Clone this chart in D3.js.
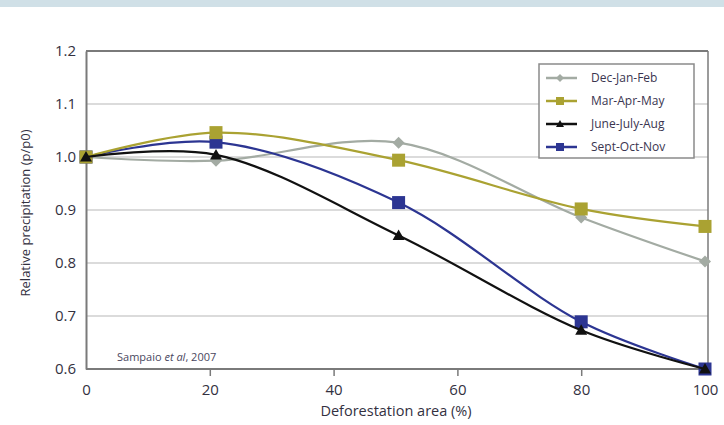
<!DOCTYPE html>
<html><head><meta charset="utf-8">
<script src="https://cdn.jsdelivr.net/npm/d3@7"></script>
<style>body{margin:0;background:#fff;}svg{display:block;}</style>
</head><body>
<svg id="chart" width="724" height="425"></svg>
<script>
const xValues = [0, 21, 50.5, 80, 100];
const seriesNames = ["Dec-Jan-Feb", "Mar-Apr-May", "June-July-Aug", "Sept-Oct-Nov"];
const decJanFeb = [1.0, 0.993, 1.027, 0.886, 0.803];
const marAprMay = [1.0, 1.046, 0.994, 0.902, 0.869];
const juneJulyAug = [1.0, 1.004, 0.852, 0.673, 0.600];
const septOctNov = [1.0, 1.028, 0.914, 0.689, 0.600];
const xTicks = [0, 20, 40, 60, 80, 100];
const yTicks = [0.6, 0.7, 0.8, 0.9, 1.0, 1.1, 1.2];

const seriesValues = [decJanFeb, marAprMay, juneJulyAug, septOctNov];
const colors = ["#a3aba3", "#aaa232", "#111111", "#2c3592"];
const markers = ["diamond", "square", "triangle", "square"];

const svg = d3.select("#chart");
const font = "'Open Sans', sans-serif";
const textColor = "#33313f";

// top band
svg.append("rect").attr("x", 0).attr("y", 0).attr("width", 724).attr("height", 7).attr("fill", "#d0e0e7");

const x = d3.scaleLinear().domain([0, 100]).range([86, 705]);
const y = d3.scaleLinear().domain([0.6, 1.2]).range([369, 51]);
const frameRight = 708;

// gridlines
svg.append("g").selectAll("line").data(yTicks.filter(d => d > 0.6 && d < 1.2)).join("line")
  .attr("x1", x(0)).attr("x2", frameRight)
  .attr("y1", d => y(d)).attr("y2", d => y(d))
  .attr("stroke", "#cfcfcf").attr("stroke-width", 1.5);

// frame lines: top, right
svg.append("line").attr("x1", x(0)).attr("x2", frameRight).attr("y1", y(1.2)).attr("y2", y(1.2)).attr("stroke", "#7a7a7a").attr("stroke-width", 2);
svg.append("line").attr("x1", frameRight).attr("x2", frameRight).attr("y1", y(1.2)).attr("y2", y(0.6)).attr("stroke", "#7a7a7a").attr("stroke-width", 1.5);

// x axis
const xAxis = d3.axisBottom(x).tickValues(xTicks).tickSize(7).tickSizeOuter(0).tickFormat(d3.format("d"));
const gx = svg.append("g").attr("transform", `translate(0,${y(0.6)})`).call(xAxis);
gx.select(".domain").attr("stroke", "#7a7a7a").attr("stroke-width", 2).attr("d", `M${x(0)},0H${frameRight}`);
gx.selectAll(".tick line").attr("stroke", "#7a7a7a").attr("stroke-width", 1.5)
  .attr("opacity", d => (d === 0 || d === 100) ? 0 : 1);
gx.selectAll(".tick text").attr("font-family", font).attr("font-size", 15).attr("fill", textColor).attr("dy", "1.05em");

// y axis
const yAxis = d3.axisLeft(y).tickValues(yTicks).tickSize(0).tickPadding(10).tickFormat(d3.format(".1f"));
const gy = svg.append("g").attr("transform", `translate(${x(0)},0)`).call(yAxis);
gy.select(".domain").attr("stroke", "#7a7a7a").attr("stroke-width", 2);
gy.selectAll(".tick text").attr("font-family", font).attr("font-size", 15).attr("fill", textColor);

// axis titles
svg.append("text").attr("x", 396).attr("y", 416).attr("text-anchor", "middle")
  .attr("font-family", font).attr("font-size", 14.5).attr("fill", textColor).text("Deforestation area (%)");
svg.append("text").attr("transform", "translate(30,213) rotate(-90)").attr("text-anchor", "middle")
  .attr("font-family", font).attr("font-size", 13).attr("fill", textColor).text("Relative precipitation (p/p0)");

// source note
const note = svg.append("text").attr("x", 117).attr("y", 361).attr("font-family", font).attr("font-size", 11).attr("fill", "#4a4760");
note.append("tspan").text("Sampaio ");
note.append("tspan").attr("font-style", "italic").text("et al");
note.append("tspan").text(", 2007");

// lines
const line = d3.line().x((d, i) => x(xValues[i])).y(d => y(d)).curve(d3.curveCatmullRom.alpha(0.5));

function drawMarker(g, type, cx, cy, color) {
  if (type === "square") {
    g.append("rect").attr("x", cx - 6.5).attr("y", cy - 6.5).attr("width", 13).attr("height", 13).attr("fill", color);
  } else if (type === "diamond") {
    g.append("path").attr("d", `M${cx},${cy - 6}L${cx + 6},${cy}L${cx},${cy + 6}L${cx - 6},${cy}Z`).attr("fill", color);
  } else {
    g.append("path").attr("d", `M${cx},${cy - 6}L${cx + 6},${cy + 4.5}L${cx - 6},${cy + 4.5}Z`).attr("fill", color);
  }
}

const order = [0, 3, 1, 2];
order.forEach(si => {
  const vals = seriesValues[si];
  const g = svg.append("g");
  g.append("path").attr("d", line(vals)).attr("fill", "none").attr("stroke", colors[si]).attr("stroke-width", 2.2);
  vals.forEach((v, i) => drawMarker(g, markers[si], x(xValues[i]), y(v), colors[si]));
});

// legend
const lg = svg.append("g");
lg.append("rect").attr("x", 539).attr("y", 64).attr("width", 155).attr("height", 94)
  .attr("fill", "#fff").attr("stroke", "#8a8a8a").attr("stroke-width", 1.5);
const legendY = d3.scalePoint().domain(seriesNames).range([78, 147]);
seriesNames.forEach((name, si) => {
  const ly = legendY(name);
  lg.append("line").attr("x1", 546).attr("x2", 577).attr("y1", ly).attr("y2", ly).attr("stroke", colors[si]).attr("stroke-width", 2.5);
  const mg = lg.append("g");
  if (markers[si] === "square") {
    mg.append("rect").attr("x", 556).attr("y", ly - 4).attr("width", 8).attr("height", 8).attr("fill", colors[si]);
  } else if (markers[si] === "diamond") {
    mg.append("path").attr("d", `M560,${ly - 4}L564,${ly}L560,${ly + 4}L556,${ly}Z`).attr("fill", colors[si]);
  } else {
    mg.append("path").attr("d", `M560,${ly - 4}L564,${ly + 3}L556,${ly + 3}Z`).attr("fill", colors[si]);
  }
  lg.append("text").attr("x", 591).attr("y", ly).attr("dy", "0.35em").attr("font-family", font).attr("font-size", 12)
    .attr("fill", "#3a3550").text(name);
});
</script>
</body></html>
